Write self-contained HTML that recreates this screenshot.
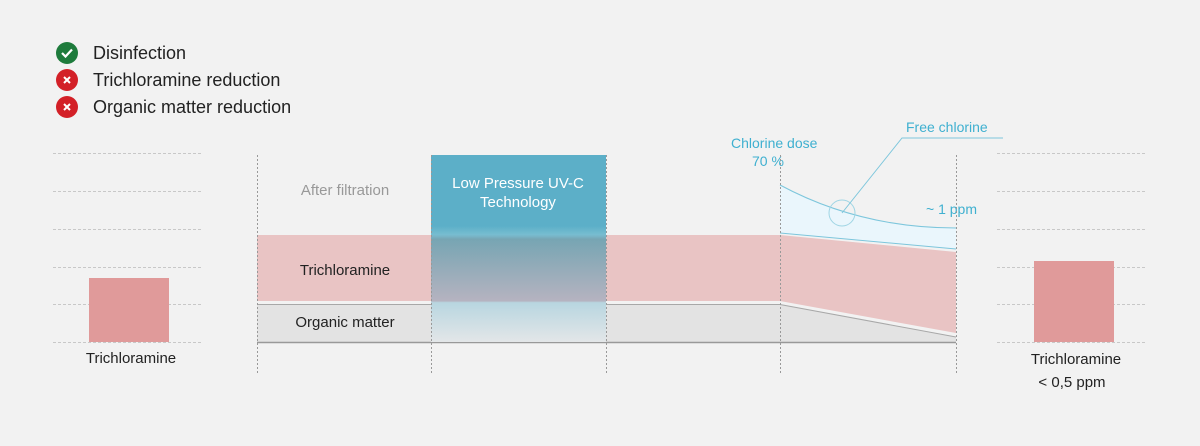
<!DOCTYPE html>
<html><head><meta charset="utf-8"><style>
html,body{margin:0;padding:0;background:#f2f2f2;}
svg{display:block;font-family:"Liberation Sans",sans-serif;}
</style></head><body>
<svg width="1200" height="446" viewBox="0 0 1200 446" xmlns="http://www.w3.org/2000/svg">
<defs>
<linearGradient id="uv" x1="0" y1="0" x2="0" y2="1">
<stop offset="0" stop-color="#5cafc8"/>
<stop offset="0.38" stop-color="#5cafc8"/>
<stop offset="0.43" stop-color="#6cb8cd" stop-opacity="0.9"/>
<stop offset="0.45" stop-color="#77a5b3"/>
<stop offset="0.78" stop-color="#b5b3c0"/>
<stop offset="0.79" stop-color="#b8d6e0"/>
<stop offset="1" stop-color="#e3e6e8"/>
</linearGradient>
</defs>
<rect width="1200" height="446" fill="#f2f2f2"/>
<circle cx="67" cy="53" r="11" fill="#1e7b3c"/>
<path d="M62 53 l3.5 3.5 l6.5 -7" stroke="#fff" stroke-width="2.2" fill="none"/>
<circle cx="67" cy="80" r="11" fill="#d32027"/>
<path d="M64 77 l6 6 M70 77 l-6 6" stroke="#fff" stroke-width="2"/>
<circle cx="67" cy="107" r="11" fill="#d32027"/>
<path d="M64 104 l6 6 M70 104 l-6 6" stroke="#fff" stroke-width="2"/>
<g font-size="18" fill="#222">
<text x="93" y="59">Disinfection</text>
<text x="93" y="86">Trichloramine reduction</text>
<text x="93" y="113">Organic matter reduction</text>
</g>
<g stroke="#c8c8c8" stroke-dasharray="3,2" stroke-width="1">
<path d="M53 153.5H202M53 191.5H202M53 229.5H202M53 267.5H202M53 304.5H202M53 342.5H202"/>
<path d="M997 153.5H1147M997 191.5H1147M997 229.5H1147M997 267.5H1147M997 304.5H1147M997 342.5H1147"/>
</g>
<rect x="89" y="278" width="80" height="64" fill="#e09a9a"/>
<rect x="1034" y="261" width="80" height="81" fill="#e09a9a"/>
<g font-size="15" fill="#222" text-anchor="middle">
<text x="131" y="363">Trichloramine</text>
<text x="1076" y="364">Trichloramine</text>
<text x="1072" y="387">&lt; 0,5  ppm</text>
</g>
<path d="M257 235H780L956 252V333L780 301H257Z" fill="#e9c4c4"/>
<path d="M257 304H780L956 337V342H257Z" fill="#e3e3e3"/>
<path d="M257 304.5H780L956 337" stroke="#a8a8a8" fill="none"/>
<path d="M257 342.5H956" stroke="#999" stroke-width="1.5"/>
<path d="M780 185Q860 228 956 228V249L780 233Z" fill="#eaf6fc"/>
<path d="M780 185Q860 228 956 228" stroke="#7dc6dc" fill="none"/>
<path d="M780 233L956 249" stroke="#7dc6dc" fill="none"/>
<circle cx="842" cy="213" r="13" fill="none" stroke="#9fd5e4"/>
<path d="M842 213L902 138H1003" stroke="#7dc6dc" fill="none"/>
<g font-size="14" fill="#3fb0d0">
<text x="906" y="132">Free chlorine</text>
<text x="731" y="148">Chlorine dose</text>
<text x="752" y="166">70 %</text>
<text x="926" y="214">~ 1 ppm</text>
</g>
<rect x="431" y="155" width="175" height="187" fill="url(#uv)"/>
<g font-size="15" fill="#fff" text-anchor="middle">
<text x="518" y="188">Low Pressure UV-C</text>
<text x="518" y="207">Technology</text>
</g>
<g font-size="15" text-anchor="middle">
<text x="345" y="195" fill="#999">After filtration</text>
<text x="345" y="275" fill="#222">Trichloramine</text>
<text x="345" y="327" fill="#222">Organic matter</text>
</g>
<g stroke="#999" stroke-dasharray="2,2">
<path d="M257.5 155V375M431.5 155V375M606.5 155V375M780.5 155V375M956.5 155V375"/>
</g>
</svg>
</body></html>
